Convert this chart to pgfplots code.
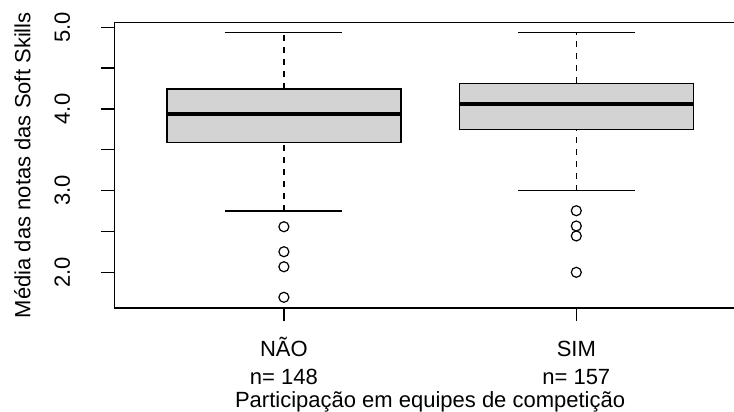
\documentclass[border=0pt]{standalone}
\usepackage{fontspec}
\setmainfont{Liberation Sans}
\usepackage{pgfplots}
\pgfplotsset{compat=1.18}
\definecolor{boxgray}{HTML}{D3D3D3}
\begin{document}
\begin{tikzpicture}
\useasboundingbox (0,0) rectangle (734pt,412pt);
\begin{axis}[
  at={(114.3pt,104pt)}, anchor=south west,
  scale only axis, width=631.6pt, height=285.7pt,
  xmin=0.42, xmax=2.58, ymin=1.563, ymax=5.061,
  axis line style={line width=1.4pt, black},
  font=\fontsize{22}{25}\selectfont,
  /pgf/number format/assume math mode=true,
  xtick={1,2},
  xticklabels={{NÃO\\[3pt]n= 148},{SIM\vphantom{Ã}\\[3pt]n= 157}},
  xticklabel style={align=center, anchor=north, font=\fontsize{22}{25}\selectfont},
  xticklabel shift=13pt,
  ytick={2,2.5,...,5},
  yticklabels={2.0,,3.0,,4.0,,5.0},
  yticklabel style={rotate=90, anchor=base, font=\fontsize{22}{25}\selectfont},
  yticklabel shift=31.5pt,
  tick align=outside, major tick length=13pt,
  xtick pos=lower, ytick pos=left,
  tick style={black, line width=1.4pt},
  minor tick num=0,
  xlabel={Participação em equipes de competição},
  xlabel style={at={(axis description cs:0.5,-0.350)}, anchor=base},
  ylabel={Média das notas das Soft Skills},
  ylabel style={at={(axis description cs:-0.1327,0.5)}, anchor=base},
]
% whiskers (dashed)
\addplot[black, line width=1.4pt, dash pattern=on 6pt off 6pt] coordinates {(1,2.75) (1,3.59)};
\addplot[black, line width=1.4pt, dash pattern=on 6pt off 6pt] coordinates {(1,4.245) (1,4.935)};
\addplot[black, line width=1.4pt, dash pattern=on 6pt off 6pt] coordinates {(2,3.0) (2,3.75)};
\addplot[black, line width=1.4pt, dash pattern=on 6pt off 6pt] coordinates {(2,4.315) (2,4.935)};
% whisker caps
\addplot[black, line width=1.4pt] coordinates {(0.8,2.75) (1.2,2.75)};
\addplot[black, line width=1.4pt] coordinates {(0.8,4.935) (1.2,4.935)};
\addplot[black, line width=1.4pt] coordinates {(1.8,3.0) (2.2,3.0)};
\addplot[black, line width=1.4pt] coordinates {(1.8,4.935) (2.2,4.935)};
% boxes
\addplot[fill=boxgray, draw=black, line width=1.4pt] coordinates {(0.6,3.59) (1.4,3.59) (1.4,4.245) (0.6,4.245)} -- cycle;
\addplot[fill=boxgray, draw=black, line width=1.4pt] coordinates {(1.6,3.75) (2.4,3.75) (2.4,4.315) (1.6,4.315)} -- cycle;
% medians
\addplot[black, line width=4pt] coordinates {(0.6,3.935) (1.4,3.935)};
\addplot[black, line width=4pt] coordinates {(1.6,4.06) (2.4,4.06)};
% outliers
\addplot[only marks, mark=o, mark size=5pt, mark options={line width=1.2pt, black}] coordinates {(1,2.558) (1,2.252) (1,2.068) (1,1.694)};
\addplot[only marks, mark=o, mark size=5pt, mark options={line width=1.2pt, black}] coordinates {(2,2.754) (2,2.567) (2,2.445) (2,2.0)};
\end{axis}
\end{tikzpicture}
\end{document}
